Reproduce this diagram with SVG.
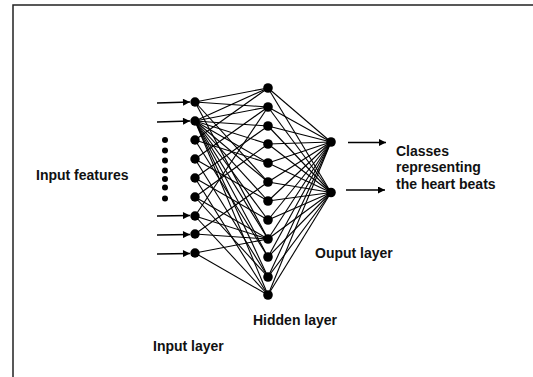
<svg xmlns="http://www.w3.org/2000/svg" width="533" height="377" viewBox="0 0 533 377">
  <defs>
    <marker id="head" viewBox="0 0 10 10" refX="10" refY="5" markerWidth="8" markerHeight="7" markerUnits="userSpaceOnUse" orient="auto">
      <path d="M0,0 L10,5 L0,10 z" fill="#000"/>
    </marker>
  </defs>
  <style>
    .frame { fill: none; stroke: #222; stroke-width: 1.5; }
    .edge { stroke: #000; stroke-width: 1.1; fill: none; }
    .arrow { stroke: #000; stroke-width: 1.3; fill: none; marker-end: url(#head); }
    .node { fill: #000; }
    .label { font-family: "Liberation Sans", Arial, sans-serif; font-weight: bold; font-size: 14px; fill: #111; }
  </style>

  <!-- page frame -->
  <path class="frame" d="M13,377 L13,5 L533,5"/>

  <!-- connectors -->
  <g id="connectors">
    <!-- input arrows -->
    <line class="arrow" x1="157" y1="103" x2="190" y2="102"/>
    <line class="arrow" x1="157" y1="122" x2="190" y2="121"/>
    <line class="arrow" x1="157" y1="216" x2="190" y2="215.5"/>
    <line class="arrow" x1="157" y1="235" x2="190" y2="234.5"/>
    <line class="arrow" x1="157" y1="254" x2="190" y2="253.5"/>

    <!-- input to hidden -->
    <g class="edge">
      <!-- input 1 -->
      <line x1="195" y1="102" x2="268" y2="88"/>
      <line x1="195" y1="102" x2="268" y2="107"/>
      <line x1="195" y1="102" x2="268" y2="182"/>
      <line x1="195" y1="102" x2="268" y2="239"/>
      <!-- input 2: fully connected -->
      <line x1="195" y1="121" x2="268" y2="88"/>
      <line x1="195" y1="121" x2="268" y2="107"/>
      <line x1="195" y1="121" x2="268" y2="126"/>
      <line x1="195" y1="121" x2="268" y2="144"/>
      <line x1="195" y1="121" x2="268" y2="163"/>
      <line x1="195" y1="121" x2="268" y2="182"/>
      <line x1="195" y1="121" x2="268" y2="201"/>
      <line x1="195" y1="121" x2="268" y2="220"/>
      <line x1="195" y1="121" x2="268" y2="239"/>
      <line x1="195" y1="121" x2="268" y2="257"/>
      <line x1="195" y1="121" x2="268" y2="277"/>
      <line x1="195" y1="121" x2="268" y2="295"/>
      <!-- input 3 -->
      <line x1="195" y1="140" x2="268" y2="88"/>
      <line x1="195" y1="140" x2="268" y2="163"/>
      <line x1="195" y1="140" x2="268" y2="257"/>
      <!-- input 4 -->
      <line x1="195" y1="159" x2="268" y2="107"/>
      <line x1="195" y1="159" x2="268" y2="201"/>
      <line x1="195" y1="159" x2="268" y2="277"/>
      <!-- input 5 -->
      <line x1="195" y1="178" x2="268" y2="126"/>
      <line x1="195" y1="178" x2="268" y2="220"/>
      <line x1="195" y1="178" x2="268" y2="295"/>
      <!-- input 6 -->
      <line x1="195" y1="197" x2="268" y2="144"/>
      <line x1="195" y1="197" x2="268" y2="239"/>
      <line x1="195" y1="197" x2="268" y2="277"/>
      <!-- input 7 -->
      <line x1="195" y1="216" x2="268" y2="107"/>
      <line x1="195" y1="216" x2="268" y2="239"/>
      <line x1="195" y1="216" x2="268" y2="295"/>
      <!-- input 8 -->
      <line x1="195" y1="234" x2="268" y2="239"/>
      <line x1="195" y1="234" x2="268" y2="182"/>
      <!-- input 9 -->
      <line x1="195" y1="253" x2="268" y2="239"/>
      <line x1="195" y1="253" x2="268" y2="295"/>
    </g>

    <!-- hidden to output: fully connected -->
    <g class="edge">
      <line x1="268" y1="88" x2="331" y2="142"/>
      <line x1="268" y1="107" x2="331" y2="142"/>
      <line x1="268" y1="126" x2="331" y2="142"/>
      <line x1="268" y1="144" x2="331" y2="142"/>
      <line x1="268" y1="163" x2="331" y2="142"/>
      <line x1="268" y1="182" x2="331" y2="142"/>
      <line x1="268" y1="201" x2="331" y2="142"/>
      <line x1="268" y1="220" x2="331" y2="142"/>
      <line x1="268" y1="239" x2="331" y2="142"/>
      <line x1="268" y1="257" x2="331" y2="142"/>
      <line x1="268" y1="277" x2="331" y2="142"/>
      <line x1="268" y1="295" x2="331" y2="142"/>
      <line x1="268" y1="88" x2="331" y2="192.5"/>
      <line x1="268" y1="107" x2="331" y2="192.5"/>
      <line x1="268" y1="126" x2="331" y2="192.5"/>
      <line x1="268" y1="144" x2="331" y2="192.5"/>
      <line x1="268" y1="163" x2="331" y2="192.5"/>
      <line x1="268" y1="182" x2="331" y2="192.5"/>
      <line x1="268" y1="201" x2="331" y2="192.5"/>
      <line x1="268" y1="220" x2="331" y2="192.5"/>
      <line x1="268" y1="239" x2="331" y2="192.5"/>
      <line x1="268" y1="257" x2="331" y2="192.5"/>
      <line x1="268" y1="277" x2="331" y2="192.5"/>
      <line x1="268" y1="295" x2="331" y2="192.5"/>
    </g>

    <!-- output arrows -->
    <line class="arrow" x1="348" y1="142.5" x2="386" y2="142.5"/>
    <line class="arrow" x1="346" y1="190" x2="385" y2="190"/>
  </g>

  <!-- ellipsis dots for the omitted inputs -->
  <g id="input-ellipsis" class="node">
    <circle cx="165" cy="140" r="3"/>
    <circle cx="165" cy="150.5" r="3"/>
    <circle cx="165" cy="160.5" r="3"/>
    <circle cx="165" cy="170.5" r="3"/>
    <circle cx="165" cy="179" r="3"/>
    <circle cx="165" cy="187.5" r="3"/>
    <circle cx="165" cy="198.5" r="3"/>
  </g>

  <!-- input layer -->
  <g id="input-layer" class="node">
    <circle id="in1" cx="195" cy="102" r="4.7"/>
    <circle id="in2" cx="195" cy="121" r="4.7"/>
    <circle id="in3" cx="195" cy="140" r="4.7"/>
    <circle id="in4" cx="195" cy="159" r="4.7"/>
    <circle id="in5" cx="195" cy="178" r="4.7"/>
    <circle id="in6" cx="195" cy="197" r="4.7"/>
    <circle id="in7" cx="195" cy="216" r="4.7"/>
    <circle id="in8" cx="195" cy="234" r="4.7"/>
    <circle id="in9" cx="195" cy="253" r="4.7"/>
  </g>

  <!-- hidden layer -->
  <g id="hidden-layer" class="node">
    <circle id="h1" cx="268" cy="88" r="4.8"/>
    <circle id="h2" cx="268" cy="107" r="4.8"/>
    <circle id="h3" cx="268" cy="126" r="4.8"/>
    <circle id="h4" cx="268" cy="144" r="4.8"/>
    <circle id="h5" cx="268" cy="163" r="4.8"/>
    <circle id="h6" cx="268" cy="182" r="4.8"/>
    <circle id="h7" cx="268" cy="201" r="4.8"/>
    <circle id="h8" cx="268" cy="220" r="4.8"/>
    <circle id="h9" cx="268" cy="239" r="4.8"/>
    <circle id="h10" cx="268" cy="257" r="4.8"/>
    <circle id="h11" cx="268" cy="277" r="4.8"/>
    <circle id="h12" cx="268" cy="295" r="4.8"/>
  </g>

  <!-- output layer -->
  <g id="output-layer" class="node">
    <circle id="out1" cx="331" cy="142" r="4.8"/>
    <circle id="out2" cx="331" cy="192.5" r="4.8"/>
  </g>

  <!-- labels -->
  <g id="labels">
    <text class="label" x="36" y="180">Input features</text>
    <text class="label" x="396" y="155.5">Classes</text>
    <text class="label" x="396" y="172">representing</text>
    <text class="label" x="396" y="188.5">the heart beats</text>
    <text class="label" x="315" y="258">Ouput layer</text>
    <text class="label" x="253" y="325">Hidden layer</text>
    <text class="label" x="153" y="351">Input layer</text>
  </g>
</svg>
